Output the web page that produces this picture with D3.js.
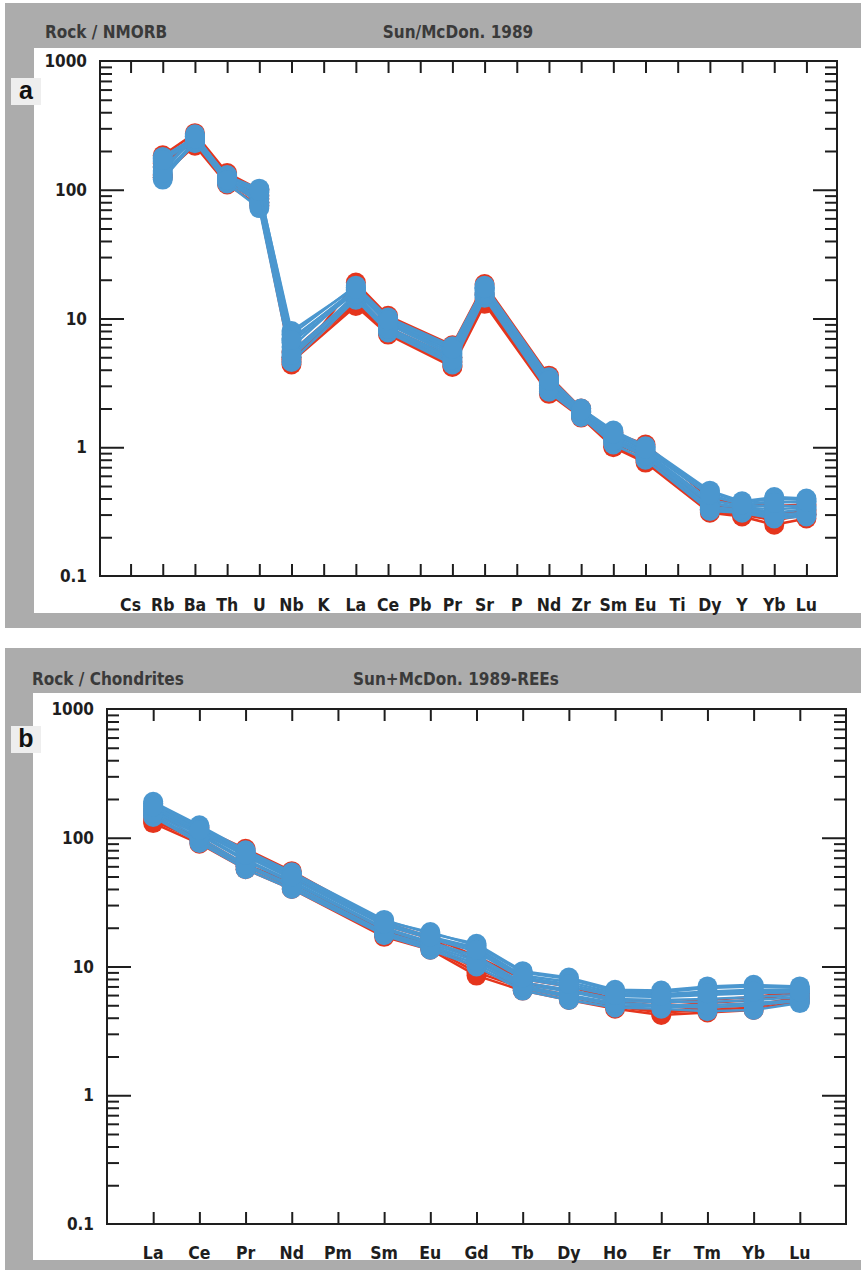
<!DOCTYPE html>
<html>
<head>
<meta charset="utf-8">
<script src="https://cdn.jsdelivr.net/npm/d3@7"></script>
<style>
  html, body { margin: 0; padding: 0; background: #fff; }
  svg { display: block; }
  .cond { font-family: "Liberation Sans Narrow", "DejaVu Sans Condensed", "Roboto Condensed", sans-serif; font-stretch: condensed; font-weight: bold; }
</style>
</head>
<body>
<svg id="chart" width="861" height="1270"></svg>
<script>
// ---- Spider diagram a: rock / N-MORB (Sun & McDonough 1989) ----
const traceElements = ["Cs","Rb","Ba","Th","U","Nb","K","La","Ce","Pb","Pr","Sr","P","Nd","Zr","Sm","Eu","Ti","Dy","Y","Yb","Lu"];
const traceTicks = [0.1, 1, 10, 100, 1000];
// one array per sample, null where the element was not analysed
const traceBlue = [
  [null,175,260,125,100,8.0,null,17.5,10.0,null,6.0,17.5,null,3.4,1.95,1.30,1.00,null,0.45,0.37,0.40,0.39],
  [null,165,250,120, 95,7.0,null,16.5, 9.5,null,5.6,16.5,null,3.2,1.90,1.25,0.95,null,0.42,0.36,0.38,0.37],
  [null,130,240,115, 80,5.5,null,15.0, 8.5,null,5.0,15.5,null,2.9,1.80,1.15,0.88,null,0.36,0.34,0.33,0.34],
  [null,125,230,130, 75,5.0,null,14.5, 8.0,null,4.6,15.0,null,2.8,1.75,1.10,0.85,null,0.33,0.32,0.29,0.30],
  [null,140,270,118, 90,6.5,null,16.0, 9.2,null,5.4,17.0,null,3.1,1.85,1.20,0.92,null,0.39,0.35,0.35,0.35],
  [null,180,255,128,102,7.5,null,18.0,10.2,null,6.1,18.0,null,3.5,2.00,1.35,1.02,null,0.46,0.38,0.41,0.40],
  [null,120,235,112, 72,4.6,null,14.0, 7.8,null,4.4,14.5,null,2.7,1.72,1.05,0.80,null,0.32,0.31,0.28,0.29],
  [null,150,245,122, 85,6.0,null,16.8, 9.0,null,5.2,16.0,null,3.0,1.88,1.18,0.90,null,0.37,0.34,0.31,0.33],
  [null,135,265,126, 78,5.2,null,15.5, 8.3,null,4.8,15.2,null,2.85,1.78,1.12,0.86,null,0.34,0.33,0.30,0.31],
  [null,170,250,119, 98,6.8,null,17.0, 9.7,null,5.8,17.2,null,3.3,1.92,1.28,0.97,null,0.43,0.36,0.37,0.38]
];
const traceRed = [
  [null,185,275,135,100,4.4,null,19.0,10.5,null,6.2,18.5,null,3.6,2.00,1.30,1.05,null,0.40,0.36,0.35,0.36],
  [null,160,240,120, 90,5.0,null,13.0, 7.8,null,4.3,13.5,null,2.7,1.75,1.02,0.80,null,0.32,0.30,0.27,0.30],
  [null,130,220,110, 75,4.6,null,12.5, 7.5,null,4.2,13.0,null,2.6,1.70,1.00,0.76,null,0.31,0.29,0.25,0.28],
  [null,150,260,125, 85,5.5,null,15.0, 8.5,null,5.0,15.5,null,3.0,1.85,1.15,0.90,null,0.35,0.33,0.30,0.32],
  [null,125,230,115, 80,4.8,null,14.0, 8.0,null,4.6,14.0,null,2.8,1.80,1.08,0.85,null,0.33,0.31,0.28,0.30]
];

// ---- REE diagram b: rock / chondrite (Sun & McDonough 1989) ----
const reeElements = ["La","Ce","Pr","Nd","Pm","Sm","Eu","Gd","Tb","Dy","Ho","Er","Tm","Yb","Lu"];
const reeTicks = [0.1, 1, 10, 100, 1000];
const reeBlue = [
  [190,125,80,54,null,23.0,18.0,15.0,9.2,8.2,6.6,6.5,7.0,7.2,7.0],
  [180,118,76,51,null,22.0,17.0,14.0,8.5,7.6,6.2,6.1,6.4,6.6,6.6],
  [165,108,68,46,null,20.0,15.5,12.0,7.5,6.6,5.6,5.5,5.6,5.8,6.0],
  [150, 95,60,42,null,18.0,14.0,10.5,6.8,5.8,5.0,4.9,4.8,5.0,5.4],
  [170,112,72,48,null,21.0,16.5,13.0,8.0,7.0,5.9,5.8,6.0,6.2,6.3],
  [185,122,78,53,null,22.5,18.5,14.5,9.0,8.0,6.4,6.3,6.8,7.0,6.8],
  [145, 91,57,40,null,17.5,13.5,10.0,6.5,5.5,4.8,4.7,4.5,4.6,5.2],
  [160,105,66,45,null,19.5,15.0,11.5,7.2,6.4,5.4,5.3,5.3,5.5,5.8],
  [155,100,62,43,null,18.5,14.5,11.0,7.0,6.0,5.2,5.0,5.0,5.2,5.5],
  [175,115,74,50,null,21.5,17.0,13.5,8.2,7.3,6.0,5.9,6.2,6.4,6.4]
];
const reeRed = [
  [140,100,62,45,null,19.0,15.0, 9.5,7.0,6.0,5.0,4.5,4.8,5.0,5.8],
  [130, 90,57,40,null,17.0,13.5, 8.5,6.5,5.5,4.7,4.2,4.4,4.6,5.4],
  [150,110,75,50,null,21.0,16.5,11.0,7.5,6.5,5.4,4.9,5.2,5.5,6.2],
  [135, 95,60,42,null,18.0,14.0, 9.0,6.8,5.8,4.9,4.4,4.6,4.8,5.6],
  [160,120,82,55,null,22.0,17.0,12.0,8.0,7.0,5.6,5.2,5.5,5.8,6.4]
];

const BLUE = "#4b97cf";
const RED = "#e5351d";
const INK = "#1e1e1e";

const svg = d3.select("#chart");
svg.append("rect").attr("x", 0).attr("y", 0).attr("width", 861).attr("height", 1270).attr("fill", "#fff");

function panel(cfg) {
  const g = svg.append("g");
  // grey mat and white card
  g.append("rect").attr("x", cfg.mat[0]).attr("y", cfg.mat[1]).attr("width", cfg.mat[2]).attr("height", cfg.mat[3]).attr("fill", "#acacac");
  g.append("rect").attr("x", cfg.card[0]).attr("y", cfg.card[1]).attr("width", cfg.card[2]).attr("height", cfg.card[3]).attr("fill", "#fff");

  // header texts
  g.append("text").attr("class", "cond").attr("x", cfg.leftTitleX).attr("y", cfg.titleY)
    .attr("font-size", 17).attr("fill", "#3a3a3a").text(cfg.leftTitle);
  g.append("text").attr("class", "cond").attr("x", cfg.centerTitleX).attr("y", cfg.titleY)
    .attr("font-size", 17).attr("fill", "#3a3a3a").attr("text-anchor", "middle").text(cfg.centerTitle);

  // panel letter
  g.append("rect").attr("x", cfg.tag[0]).attr("y", cfg.tag[1]).attr("width", 30).attr("height", 27).attr("fill", "#eeeeee");
  g.append("text").attr("x", cfg.tag[0] + 15).attr("y", cfg.tag[1] + 21).attr("text-anchor", "middle")
    .attr("font-family", "Liberation Sans, Arial, sans-serif").attr("font-weight", "bold").attr("font-size", 25)
    .attr("fill", "#111").text(cfg.letter);

  const p = cfg.plot;
  const x = d3.scalePoint().domain(cfg.cats).range([p.l, p.r]).padding(cfg.pad);
  const y = d3.scaleLog().domain([0.1, 1000]).range([p.b, p.t]);

  // minor log ticks: 2..9 in every decade
  const minor = [];
  for (let e = -1; e < 3; e++) for (let m = 2; m <= 9; m++) minor.push(+(m * Math.pow(10, e)).toPrecision(3));
  const inner = cfg.ticks.filter(v => v > 0.1 && v < 1000);

  const axes = g.append("g").attr("stroke-width", 2);
  function styl(sel) {
    sel.select(".domain").remove();
    sel.selectAll("line").attr("stroke", INK).attr("stroke-width", 2);
    sel.selectAll("text").remove();
  }
  axes.append("g").attr("transform", `translate(${p.l},0)`).call(d3.axisLeft(y).tickValues(minor).tickSize(-12)).call(styl);
  axes.append("g").attr("transform", `translate(${p.l},0)`).call(d3.axisLeft(y).tickValues(inner).tickSize(-24)).call(styl);
  axes.append("g").attr("transform", `translate(${p.r},0)`).call(d3.axisRight(y).tickValues(minor).tickSize(-12)).call(styl);
  axes.append("g").attr("transform", `translate(${p.r},0)`).call(d3.axisRight(y).tickValues(inner).tickSize(-24)).call(styl);
  axes.append("g").attr("transform", `translate(0,${p.t})`).call(d3.axisTop(x).tickSize(-12)).call(styl);
  axes.append("g").attr("transform", `translate(0,${p.b})`).call(d3.axisBottom(x).tickSize(-12)).call(styl);

  // y labels
  g.append("g").selectAll("text").data(cfg.ticks).join("text")
    .attr("class", "cond").attr("x", p.l - 13).attr("y", d => y(d) + 6)
    .attr("text-anchor", "end").attr("font-size", 17).attr("fill", INK)
    .text(d => d3.format("~g")(d));
  // x labels
  g.append("g").selectAll("text").data(cfg.cats).join("text")
    .attr("class", "cond").attr("x", d => x(d)).attr("y", p.b + 35)
    .attr("text-anchor", "middle").attr("font-size", 17.5).attr("fill", INK)
    .text(d => d);

  // samples: red group first, blue group on top
  const line = d3.line().x(d => x(d.k)).y(d => y(d.v));
  const groups = [[cfg.red, RED], [cfg.blue, BLUE]];
  const marks = g.append("g");
  groups.forEach(([rows, col]) => {
    rows.forEach(row => {
      const pts = row.map((v, i) => ({ k: cfg.cats[i], v })).filter(d => d.v != null);
      marks.append("path").datum(pts).attr("d", line).attr("fill", "none")
        .attr("stroke", col).attr("stroke-width", 2.5).attr("stroke-linejoin", "round");
      marks.append("g").selectAll("circle").data(pts).join("circle")
        .attr("cx", d => x(d.k)).attr("cy", d => y(d.v)).attr("r", 10).attr("fill", col);
    });
  });

  // frame
  g.append("rect").attr("x", p.l).attr("y", p.t).attr("width", p.r - p.l).attr("height", p.b - p.t)
    .attr("fill", "none").attr("stroke", INK).attr("stroke-width", 2);
}

panel({
  mat: [5, 3, 856, 625], card: [34, 48, 827, 565], tag: [11, 78],
  letter: "a", leftTitle: "Rock / NMORB", leftTitleX: 45, centerTitle: "Sun/McDon. 1989", centerTitleX: 458, titleY: 38,
  plot: { l: 100, t: 61, r: 837, b: 576 }, pad: 0.95,
  cats: traceElements, ticks: traceTicks, blue: traceBlue, red: traceRed
});

panel({
  mat: [5, 648, 856, 622], card: [33, 693, 828, 567], tag: [11, 726],
  letter: "b", leftTitle: "Rock / Chondrites", leftTitleX: 32, centerTitle: "Sun+McDon. 1989-REEs", centerTitleX: 456, titleY: 685,
  plot: { l: 107, t: 709, r: 846, b: 1224 }, pad: 1.0,
  cats: reeElements, ticks: reeTicks, blue: reeBlue, red: reeRed
});
</script>
</body>
</html>
